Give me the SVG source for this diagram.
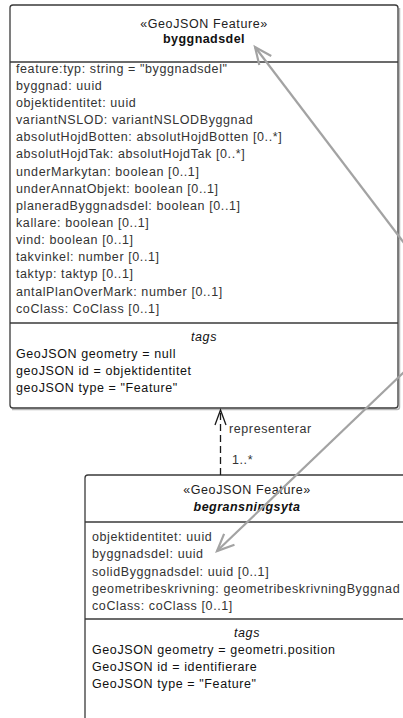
<svg xmlns="http://www.w3.org/2000/svg" width="403" height="718" viewBox="0 0 403 718">
  <style>
    .box { fill: #ffffff; stroke: #3a3a3a; stroke-width: 1.3; }
    .sep { stroke: #3a3a3a; stroke-width: 1.3; }
    .shadow { fill: none; stroke: #b8b8b8; stroke-width: 1.5; }
    text { font-family: "Liberation Sans", Arial, sans-serif; font-size: 12.5px; letter-spacing: 0.6px; fill: #333333; }
    .stereo { text-anchor: middle; fill: #222222; }
    .name { text-anchor: middle; font-weight: bold; letter-spacing: 0.45px; fill: #111111; }
    .abstract { font-style: italic; }
    .tagh { text-anchor: middle; font-style: italic; fill: #111111; }
    .tag { fill: #111111; }
    .lbl { fill: #333333; }
    .dep { fill: none; stroke: #1a1a1a; stroke-width: 1.3; stroke-dasharray: 7 4; }
    .ref { fill: none; stroke: #a3a3a3; stroke-width: 2.2; }
  </style>
  <defs>
    <marker id="openArrow" markerUnits="userSpaceOnUse" markerWidth="24" markerHeight="24" refX="0" refY="0" viewBox="-20 -10 24 20" orient="auto" overflow="visible">
      <path d="M-17,-7.5 L0,0 L-17,7.5" fill="none" stroke="#a3a3a3" stroke-width="2.2"/>
    </marker>
    <marker id="depArrow" markerUnits="userSpaceOnUse" markerWidth="20" markerHeight="20" refX="0" refY="0" viewBox="-16 -8 20 16" orient="auto" overflow="visible">
      <path d="M-15,-5.5 L0,0 L-15,5.5" fill="none" stroke="#1a1a1a" stroke-width="1.3"/>
    </marker>
  </defs>

  <!-- class byggnadsdel -->
  <g id="byggnadsdel">
    <path class="shadow" d="M12,409.5 H397 Q399.5,409.5 399.5,407 V8"/>
    <rect class="box" x="10" y="5" width="388" height="403" rx="3"/>
    <line class="sep" x1="10" y1="62" x2="398" y2="62"/>
    <line class="sep" x1="10" y1="323" x2="398" y2="323"/>
    <text class="stereo" x="204" y="28">«GeoJSON Feature»</text>
    <text class="name" x="204" y="43">byggnadsdel</text>
    <text x="16" y="73">feature:typ: string = "byggnadsdel"</text>
    <text x="16" y="90">byggnad: uuid</text>
    <text x="16" y="107">objektidentitet: uuid</text>
    <text x="16" y="124">variantNSLOD: variantNSLODByggnad</text>
    <text x="16" y="141">absolutHojdBotten: absolutHojdBotten [0..*]</text>
    <text x="16" y="158">absolutHojdTak: absolutHojdTak [0..*]</text>
    <text x="16" y="176">underMarkytan: boolean [0..1]</text>
    <text x="16" y="193">underAnnatObjekt: boolean [0..1]</text>
    <text x="16" y="210">planeradByggnadsdel: boolean [0..1]</text>
    <text x="16" y="227">kallare: boolean [0..1]</text>
    <text x="16" y="244">vind: boolean [0..1]</text>
    <text x="16" y="261">takvinkel: number [0..1]</text>
    <text x="16" y="278">taktyp: taktyp [0..1]</text>
    <text x="16" y="296">antalPlanOverMark: number [0..1]</text>
    <text x="16" y="313">coClass: CoClass [0..1]</text>
    <text class="tagh" x="204" y="341">tags</text>
    <text class="tag" x="16" y="358">GeoJSON geometry = null</text>
    <text class="tag" x="16" y="375">geoJSON id = objektidentitet</text>
    <text class="tag" x="16" y="392">geoJSON type = "Feature"</text>
  </g>

  <!-- class begransningsyta -->
  <g id="begransningsyta">
    <rect class="box" x="85" y="475" width="330" height="260" rx="3"/>
    <line class="sep" x1="85" y1="522" x2="415" y2="522"/>
    <line class="sep" x1="85" y1="619" x2="415" y2="619"/>
    <text class="stereo" x="247" y="494">«GeoJSON Feature»</text>
    <text class="name abstract" x="247" y="511">begransningsyta</text>
    <text x="92" y="541">objektidentitet: uuid</text>
    <text x="92" y="558">byggnadsdel: uuid</text>
    <text x="92" y="576">solidByggnadsdel: uuid [0..1]</text>
    <text x="92" y="593">geometribeskrivning: geometribeskrivningByggnad</text>
    <text x="92" y="610">coClass: coClass [0..1]</text>
    <text class="tagh" x="247" y="637">tags</text>
    <text class="tag" x="92" y="654">GeoJSON geometry = geometri.position</text>
    <text class="tag" x="92" y="671">GeoJSON id = identifierare</text>
    <text class="tag" x="92" y="688">GeoJSON type = "Feature"</text>
  </g>

  <!-- connectors -->
  <g id="connectors">
    <path class="dep" d="M220.5,475 V410" marker-end="url(#depArrow)"/>
    <text class="lbl" x="229" y="433">representerar</text>
    <text class="lbl" x="232" y="464">1..*</text>
    <path class="ref" d="M404,243 L255,47" marker-end="url(#openArrow)"/>
    <path class="ref" d="M404,372 L217,551" marker-end="url(#openArrow)"/>
  </g>
</svg>
